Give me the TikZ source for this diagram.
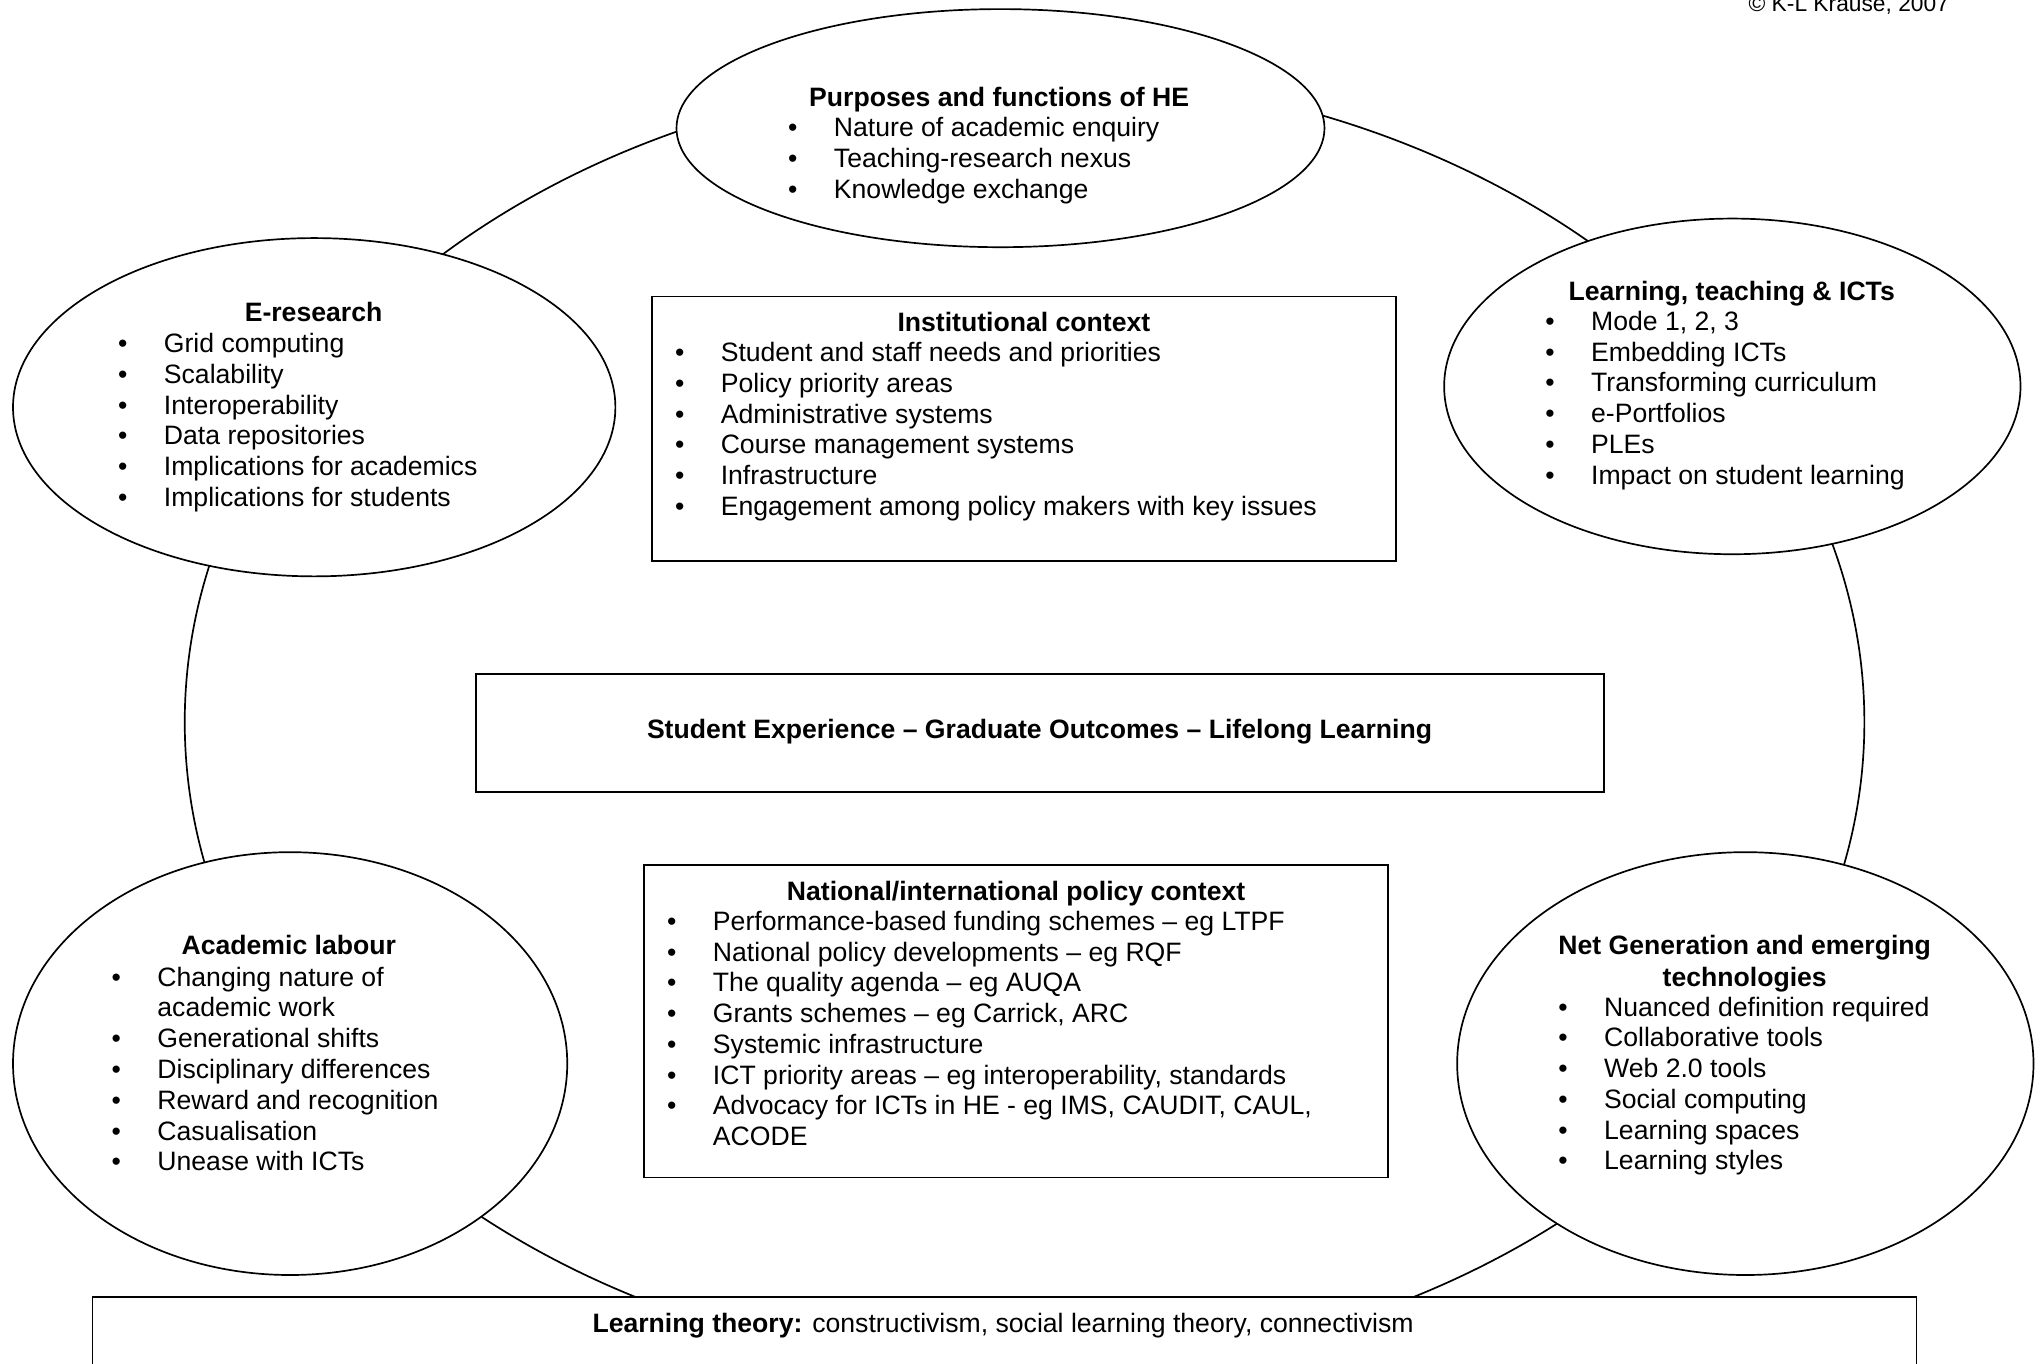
\documentclass[tikz,border=0pt]{standalone}
\usepackage{fontspec}
\setmainfont{Liberation Sans}
\usetikzlibrary{shapes.geometric}
\newcommand{\itemlist}[4]{%
  \foreach \t [count=\i] in {#4} {%
    \node[itm] (#1\i) at ({#2},{#3+23.65*(\i-1)}) {\llap{•\hspace{28pt}}\t};}}
\begin{document}
\begin{tikzpicture}[x=1pt,y=-1pt,
  every node/.style={inner sep=0pt, outer sep=0pt},
  lw/.style={line width=1.3pt},
  bubble/.style={draw, lw, ellipse, fill=white, inner sep=0pt},
  panel/.style={draw, lw, rectangle, fill=white, inner sep=0pt},
  ttl/.style={font=\fontsize{20.45}{23.65}\selectfont\bfseries, anchor=base},
  itm/.style={font=\fontsize{20.45}{23.65}\selectfont, anchor=base west},
  txt/.style={font=\fontsize{20.45}{23.65}\selectfont, anchor=base west},
]
\fill[white] (0,0) rectangle (1568,1048);
\useasboundingbox (0,0) rectangle (1568,1048);

% background ring
\node[draw, lw, ellipse, minimum width=1291pt, minimum height=997pt] (ring) at (787.5,555) {};

% bubbles
\node[bubble, minimum width=498pt, minimum height=183pt] (purp) at (769,98.5) {};
\node[bubble, minimum width=463pt, minimum height=260pt] (eres) at (241.5,313) {};
\node[bubble, minimum width=443pt, minimum height=258pt] (ltict) at (1331.5,297) {};
\node[bubble, minimum width=426pt, minimum height=325pt] (acad) at (223,817.5) {};
\node[bubble, minimum width=443pt, minimum height=325pt] (netg) at (1341.5,817.5) {};

% panels
\node[panel, minimum width=572pt, minimum height=203pt] (inst) at (787,329.5) {};
\node[panel, minimum width=867pt, minimum height=91pt] (stud) at (799.5,563.5) {};
\node[panel, minimum width=572pt, minimum height=240pt] (natl) at (781,785) {};
\node[panel, minimum width=1402pt, minimum height=63pt] (theory) at (772,1028.5) {};

% copyright
\node[font=\fontsize{17.5}{20}\selectfont, anchor=base east] (copy) at (1498,9) {© K-L Krause, 2007};

% Purposes
\node[ttl] (purpT) at (768,82) {Purposes and functions of HE};
\itemlist{purpI}{641}{105}{Nature of academic enquiry, Teaching-research nexus, Knowledge exchange}

% E-research
\node[ttl] (eresT) at (241,247) {E-research};
\itemlist{eresI}{126}{271}{Grid computing, Scalability, Interoperability, Data repositories, Implications for academics, Implications for students}

% Learning, teaching & ICTs
\node[ttl] (ltictT) at (1331,231) {Learning, teaching \& ICTs};
\itemlist{ltictI}{1223}{254}{{Mode 1, 2, 3}, Embedding ICTs, Transforming curriculum, e-Portfolios, PLEs, Impact on student learning}

% Institutional context
\node[ttl] (instT) at (787,255) {Institutional context};
\itemlist{instI}{554}{278}{Student and staff needs and priorities, Policy priority areas, Administrative systems, Course management systems, Infrastructure, Engagement among policy makers with key issues}

% Student experience
\node[ttl] (studT) at (799,568) {Student Experience – Graduate Outcomes – Lifelong Learning};

% National/international
\node[ttl] (natlT) at (781,692) {National/international policy context};
\itemlist{natlI}{548}{715}{Performance-based funding schemes – eg LTPF, National policy developments – eg RQF, The quality agenda – eg AUQA, {Grants schemes – eg Carrick, ARC}, Systemic infrastructure, {ICT priority areas – eg interoperability, standards}, {Advocacy for ICTs in HE - eg IMS, CAUDIT, CAUL,}}
\node[txt] (natlX) at (548,880.5) {ACODE};

% Academic labour
\node[ttl] (acadT) at (222,734) {Academic labour};
\itemlist{acadA}{121}{758}{Changing nature of}
\node[txt] (acadX) at (121,781.65) {academic work};
\itemlist{acadI}{121}{805.3}{Generational shifts, Disciplinary differences, Reward and recognition, Casualisation, Unease with ICTs}

% Net Generation
\node[ttl] (netgT1) at (1341,734) {Net Generation and emerging};
\node[ttl] (netgT2) at (1341,758) {technologies};
\itemlist{netgI}{1233}{781}{Nuanced definition required, Collaborative tools, Web 2.0 tools, Social computing, Learning spaces, Learning styles}

% Learning theory
\node[font=\fontsize{20.45}{23.65}\selectfont, anchor=base] (theoryT) at (771,1024) {\textbf{Learning theory:} constructivism, social learning theory, connectivism};
\end{tikzpicture}
\end{document}
